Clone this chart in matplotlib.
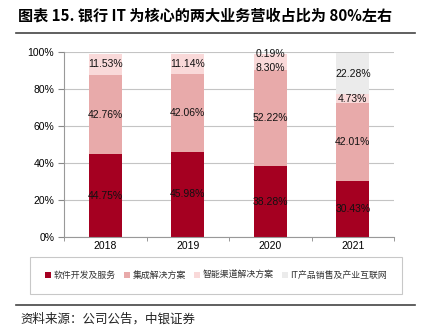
import matplotlib
matplotlib.use('Agg')
import matplotlib.pyplot as plt
from matplotlib.patches import Patch
import numpy as np

plt.rcParams['font.family'] = ['Liberation Sans', 'Noto Sans CJK SC', 'DejaVu Sans']

years = ['2018', '2019', '2020', '2021']
names = ['软件开发及服务', '集成解决方案', '智能渠道解决方案', 'IT产品销售及产业互联网']
software = [44.75, 45.98, 38.28, 30.43]
integration = [42.76, 42.06, 52.22, 42.01]
channel = [11.53, 11.14, 8.30, 4.73]
product = [0.0, 0.0, 0.19, 22.28]
colors = ['#A50021', '#E8AAAA', '#F9D9D9', '#EBEBEB']

fig = plt.figure(figsize=(4.23, 3.36), dpi=100)
W, H = 423, 336
ax = fig.add_axes([64 / W, 1 - 237 / H, 330 / W, 185 / H])

x = np.arange(len(years))
series = [software, integration, channel, product]
bottom = np.zeros(len(years))
for vals, c in zip(series, colors):
    vals = np.array(vals)
    ax.bar(x, vals, 0.4, bottom=bottom, color=c, zorder=2)
    for i, v in enumerate(vals):
        if v <= 0:
            continue
        y = bottom[i] + v / 2
        # nudge the two thin 2020 segments apart so text does not overlap
        if years[i] == '2020' and c == colors[2]:
            y -= 3.5
        if years[i] == '2020' and c == colors[3]:
            y += 0.2
        ax.text(x[i], y, f'{v:.2f}%', ha='center', va='center', fontsize=7.5, color='#111111', zorder=3)
    bottom += vals

ax.set_xlim(-0.5, 3.5)
ax.set_ylim(0, 100)
ax.set_yticks(np.arange(0, 101, 20))
ax.set_yticklabels([f'{t}%' for t in range(0, 101, 20)])
ax.set_xticks(x)
ax.set_xticklabels(years)
ax.set_xticks(np.arange(-0.5, 4, 1), minor=True)
ax.tick_params(axis='x', which='major', length=0, labelsize=7.5, pad=3)
ax.tick_params(axis='x', which='minor', length=3, color='#888888', direction='out')
ax.tick_params(axis='y', length=4, color='#888888', labelsize=7.5, pad=3)
ax.yaxis.grid(True, color='#C4C4C4', linewidth=0.8, zorder=0)
for s in ['top', 'right']:
    ax.spines[s].set_visible(False)
ax.spines['left'].set_color('#999999')
ax.spines['bottom'].set_color('#999999')

handles = [Patch(facecolor=c, edgecolor='none') for c in colors]
leg = fig.legend(handles, names, loc='center', bbox_to_anchor=(216 / W, 1 - 275.5 / H),
                 ncol=4, frameon=True, fancybox=False,
                 handlelength=0.7, handleheight=0.7, handletextpad=0.3, columnspacing=0.9,
                 borderpad=1.6, borderaxespad=0,
                 prop={'family': ['Noto Sans CJK SC'], 'size': 6.4})
leg.get_frame().set_edgecolor('#BBBBBB')
leg.get_frame().set_linewidth(0.8)
for t in leg.get_texts():
    t.set_color('#333333')

fig.text(18 / W, 1 - 16 / H, '图表 15. 银行 IT 为核心的两大业务营收占比为 80%左右',
         fontsize=10.9, fontweight='bold', va='center', ha='left',
         family=['Noto Sans CJK SC'])
fig.add_artist(plt.Line2D([16 / W, 415 / W], [1 - 32.5 / H, 1 - 32.5 / H], color='#444444', linewidth=1.2))
fig.add_artist(plt.Line2D([16 / W, 415 / W], [1 - 305 / H, 1 - 305 / H], color='#444444', linewidth=1.2))
fig.text(20 / W, 1 - 319 / H, '资料来源：公司公告，中银证券', fontsize=9, va='center', ha='left',
         family=['Noto Sans CJK SC'], color='#222222')

fig.savefig('out.png', dpi=100)
